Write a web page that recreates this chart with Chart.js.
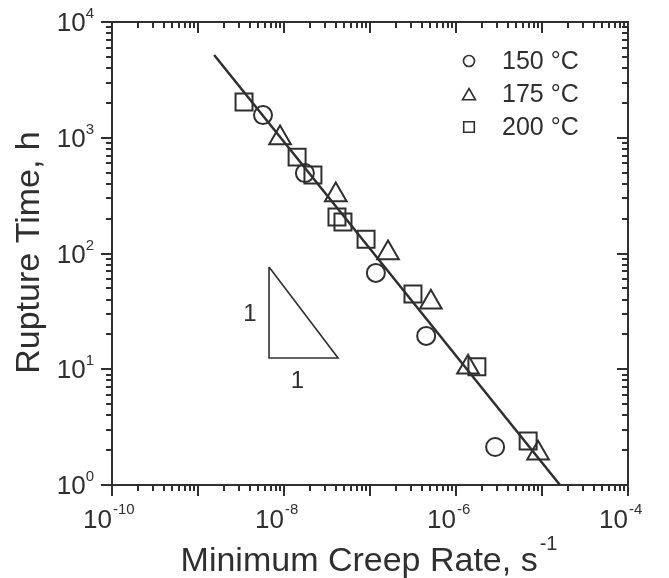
<!DOCTYPE html>
<html>
<head>
<meta charset="utf-8">
<script src="https://cdn.jsdelivr.net/npm/chart.js@4.4.1/dist/chart.umd.min.js"></script>
<style>
  html, body { margin: 0; padding: 0; background: #fff; }
</style>
</head>
<body>
<canvas id="creep-chart" width="669" height="578"></canvas>
<script>
// minimum creep rate (s^-1) vs rupture time (h)
const rate150 = [5.7e-9, 1.75e-8, 1.17e-7, 4.5e-7, 2.85e-6];
const time150 = [1570, 495, 68, 19.4, 2.13];
const rate175 = [9.0e-9, 4.0e-8, 1.62e-7, 5.1e-7, 1.38e-6, 9.0e-6];
const time175 = [995, 320, 101, 38, 10.4, 1.88];
const rate200 = [3.43e-9, 1.42e-8, 2.17e-8, 4.13e-8, 4.85e-8, 9.0e-8, 3.16e-7, 1.75e-6, 6.9e-6];
const time200 = [2040, 680, 476, 207, 187, 133, 44.7, 10.5, 2.4];
const seriesLabels = ['150 °C', '175 °C', '200 °C'];

// fitted line and the 1:1 slope triangle
const fitRate = [1.54e-9, 1.62e-5];
const fitTime = [5190, 1];
const slopeRate = [6.7e-9, 6.7e-9, 4.25e-8, 6.7e-9];
const slopeTime = [76.4, 12.5, 12.5, 76.4];

// labelled decades
const xLabelExp = [-10, -8, -6, -4];
const yLabelExp = [0, 1, 2, 3, 4];

const ink = '#2f2f2f';
const family = '"Liberation Sans", Arial, sans-serif';

function pts(xs, ys) {
    return xs.map((v, i) => ({ x: v, y: ys[i] }));
}

// axes, ticks, labels, legend - drawn on top of the datasets
const frame = {
    id: 'frame',
    afterDatasetsDraw(chart) {
        const { ctx, chartArea: a, scales: { x, y } } = chart;
        ctx.save();
        ctx.strokeStyle = ink;
        ctx.fillStyle = ink;

        // ticks: left/bottom point out, top/right point in
        ctx.lineWidth = 2;
        ctx.beginPath();
        for (let d = Math.round(Math.log10(x.min)); d <= Math.round(Math.log10(x.max)); d++) {
            for (let m = 1; m < 10; m++) {
                const v = m * Math.pow(10, d);
                if (v > x.max * 1.0001) break;
                const px = Math.round(x.getPixelForValue(v));
                const len = m === 1 ? 11 : 6;
                ctx.moveTo(px, a.bottom); ctx.lineTo(px, a.bottom + len);
                ctx.moveTo(px, a.top); ctx.lineTo(px, a.top + len);
            }
        }
        for (let d = Math.round(Math.log10(y.min)); d <= Math.round(Math.log10(y.max)); d++) {
            for (let m = 1; m < 10; m++) {
                const v = m * Math.pow(10, d);
                if (v > y.max * 1.0001) break;
                const py = Math.round(y.getPixelForValue(v));
                const len = m === 1 ? 11 : 6;
                ctx.moveTo(a.left - len, py); ctx.lineTo(a.left, py);
                ctx.moveTo(a.right - len, py); ctx.lineTo(a.right, py);
            }
        }
        ctx.stroke();

        // frame
        ctx.strokeRect(a.left, a.top, a.right - a.left, a.bottom - a.top);

        // x tick labels: "10" ends at the tick, exponent starts after it
        ctx.textBaseline = 'alphabetic';
        xLabelExp.forEach(e => {
            const px = x.getPixelForValue(Math.pow(10, e));
            ctx.font = '26px ' + family;
            ctx.textAlign = 'right';
            ctx.fillText('10', px, a.bottom + 43);
            ctx.font = '15px ' + family;
            ctx.textAlign = 'left';
            ctx.fillText(String(e), px + 1, a.bottom + 29);
        });

        // y tick labels
        yLabelExp.forEach(e => {
            const py = y.getPixelForValue(Math.pow(10, e));
            ctx.font = '15px ' + family;
            const sw = ctx.measureText(String(e)).width;
            ctx.textAlign = 'right';
            ctx.fillText(String(e), 94, py - 4);
            ctx.font = '26px ' + family;
            ctx.fillText('10', 94 - sw, py + 9);
        });

        // axis titles
        const tFont = '34px ' + family;
        const sFont = '20px ' + family;
        ctx.font = tFont;
        const xt = 'Minimum Creep Rate, s';
        const xw = ctx.measureText(xt).width;
        ctx.font = sFont;
        const sw = ctx.measureText('-1').width;
        const x0 = (a.left + a.right) / 2 - 2 - (xw + sw) / 2;
        ctx.font = tFont;
        ctx.textAlign = 'left';
        ctx.fillText(xt, x0, a.bottom + 86);
        ctx.font = sFont;
        ctx.fillText('-1', x0 + xw + 2, a.bottom + 65);

        ctx.save();
        ctx.translate(39, (a.top + a.bottom) / 2 - 1);
        ctx.rotate(-Math.PI / 2);
        ctx.font = tFont;
        ctx.textAlign = 'center';
        ctx.fillText('Rupture Time, h', 0, 0);
        ctx.restore();

        // slope triangle labels
        ctx.font = '24px ' + family;
        ctx.textAlign = 'center';
        ctx.textBaseline = 'middle';
        const topY = y.getPixelForValue(slopeTime[0]);
        const botY = y.getPixelForValue(slopeTime[1]);
        ctx.fillText('1', x.getPixelForValue(slopeRate[0]) - 19, (topY + botY) / 2 + 2);
        const bx = (x.getPixelForValue(slopeRate[1]) + x.getPixelForValue(slopeRate[2])) / 2;
        ctx.fillText('1', bx - 6, botY + 23);

        // legend
        const rows = [61, 94, 127];
        const styles = [
            { pointStyle: 'circle', radius: 5.5 },
            { pointStyle: 'triangle', radius: 7.5 },
            { pointStyle: 'rect', radius: 7.5 }
        ];
        ctx.font = '25px ' + family;
        ctx.textAlign = 'left';
        seriesLabels.forEach((lab, i) => {
            ctx.fillStyle = 'rgba(0,0,0,0)';
            ctx.strokeStyle = ink;
            ctx.lineWidth = 1.6;
            Chart.helpers.drawPoint(ctx, { pointStyle: styles[i].pointStyle, radius: styles[i].radius, rotation: 0, borderWidth: 1.6 },
                469, rows[i] + (i === 1 ? 2 : 0));
            ctx.fillStyle = ink;
            ctx.fillText(lab, 502, rows[i] + 1);
        });

        ctx.restore();
    }
};

const marker = {
    showLine: false,
    pointBorderColor: ink,
    pointBackgroundColor: 'rgba(0,0,0,0)',
    pointBorderWidth: 2
};

new Chart(document.getElementById('creep-chart'), {
    type: 'scatter',
    data: {
        datasets: [
            Object.assign({ label: seriesLabels[0], data: pts(rate150, time150), pointStyle: 'circle', pointRadius: 9 }, marker),
            Object.assign({ label: seriesLabels[1], data: pts(rate175, time175), pointStyle: 'triangle', pointRadius: 12.5 }, marker),
            Object.assign({ label: seriesLabels[2], data: pts(rate200, time200), pointStyle: 'rect', pointRadius: 12 }, marker),
            {
                label: 'fit', data: pts(fitRate, fitTime), showLine: true,
                pointRadius: 0, borderColor: ink, borderWidth: 2.5
            },
            {
                label: 'slope', data: pts(slopeRate, slopeTime), showLine: true,
                pointRadius: 0, borderColor: ink, borderWidth: 1.6
            }
        ]
    },
    options: {
        responsive: false,
        animation: false,
        devicePixelRatio: 1,
        layout: { padding: { left: 112, top: 22, right: 41, bottom: 93 } },
        plugins: { legend: { display: false }, tooltip: { enabled: false } },
        scales: {
            x: { type: 'logarithmic', min: 1e-10, max: 1e-4, display: false },
            y: { type: 'logarithmic', min: 1, max: 1e4, display: false }
        }
    },
    plugins: [frame]
});
</script>
</body>
</html>
